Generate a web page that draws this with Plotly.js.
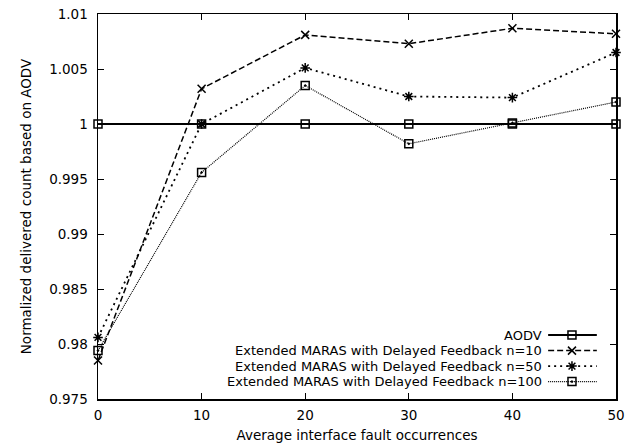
<!DOCTYPE html>
<html>
<head>
<meta charset="utf-8">
<script src="https://cdn.plot.ly/plotly-3.0.1.min.js"></script>
<style>html,body{margin:0;padding:0;background:#fff;}#chart{width:627px;height:448px;}</style>
</head>
<body>
<div id="chart"></div>
<script>
// Data
const faults = [0, 10, 20, 30, 40, 50];
const aodv = [1.0, 1.0, 1.0, 1.0, 1.0, 1.0];
const maras10 = [0.9785, 1.0032, 1.0081, 1.0073, 1.0087, 1.0082];
const maras50 = [0.9806, 1.0, 1.0051, 1.0025, 1.0024, 1.0065];
const maras100 = [0.9794, 0.9956, 1.0035, 0.9982, 1.0001, 1.0020];
const seriesNames = [
  "AODV",
  "Extended MARAS with Delayed Feedback n=10",
  "Extended MARAS with Delayed Feedback n=50",
  "Extended MARAS with Delayed Feedback n=100"
];
const xTicks = [0, 10, 20, 30, 40, 50];
const yTicks = [0.975, 0.98, 0.985, 0.99, 0.995, 1, 1.005, 1.01];

const styles = [
  {dash: "solid", width: 2, symbol: "square-open", msize: 8},
  {dash: "6px,3px", width: 1.5, symbol: "x-thin-open", msize: 8},
  {dash: "2px,4px", width: 1.8, symbol: "asterisk-open", msize: 8},
  {dash: "1px,1px", width: 1.2, symbol: "square-open-dot", msize: 8}
];
const values = [aodv, maras10, maras50, maras100];

const traces = values.map((v, i) => ({
  x: faults, y: v, type: "scatter", mode: "lines+markers",
  name: seriesNames[i], showlegend: false, cliponaxis: false,
  line: {color: "#000", width: styles[i].width, dash: styles[i].dash},
  marker: {symbol: styles[i].symbol, size: styles[i].msize, color: "#000",
           line: {color: "#000", width: 1.5}}
}));

const font = {family: "DejaVu Sans, Liberation Sans, sans-serif", size: 13.5, color: "#000"};
const keyFont = {family: "DejaVu Sans, Liberation Sans, sans-serif", size: 13, color: "#000"};

// gnuplot-style key: text right-aligned, sample to its right (overlay axes in plot fractions)
const keyTextX = 0.859, keyX0 = 0.869, keyX1 = 0.963, keyXm = 0.915;
const keyRows = [0.166, 0.1257, 0.0854, 0.0452];
const annotations = [];
seriesNames.forEach((n, i) => {
  traces.push({
    x: [keyX0, keyX1], y: [keyRows[i], keyRows[i]], xaxis: "x2", yaxis: "y2",
    type: "scatter", mode: "lines", showlegend: false, hoverinfo: "skip",
    line: {color: "#000", width: styles[i].width, dash: styles[i].dash}
  });
  traces.push({
    x: [keyXm], y: [keyRows[i]], xaxis: "x2", yaxis: "y2",
    type: "scatter", mode: "markers", showlegend: false, hoverinfo: "skip", cliponaxis: false,
    marker: {symbol: styles[i].symbol, size: styles[i].msize, color: "#000",
             line: {color: "#000", width: 1.5}}
  });
  annotations.push({
    xref: "x2", yref: "y2", x: keyTextX, y: keyRows[i], text: n, showarrow: false,
    xanchor: "right", yanchor: "middle", font: keyFont, borderpad: 0
  });
});

const layout = {
  width: 627, height: 448,
  margin: {l: 98, r: 11, t: 14, b: 49, pad: 0},
  paper_bgcolor: "#fff", plot_bgcolor: "#fff",
  font: font,
  showlegend: false,
  xaxis: {
    range: [0, 50], tickvals: xTicks, ticktext: xTicks.map(String),
    ticks: "inside", ticklen: 6, tickwidth: 1, tickcolor: "#000",
    showline: true, linecolor: "#000", linewidth: 1.5, mirror: "ticks",
    showgrid: false, zeroline: false, ticklabelstandoff: 3,
    title: {text: "Average interface fault occurrences", font: font, standoff: 9},
    automargin: false
  },
  yaxis: {
    range: [0.975, 1.01], tickvals: yTicks, ticktext: yTicks.map(String),
    ticks: "inside", ticklen: 6, tickwidth: 1, tickcolor: "#000",
    showline: true, linecolor: "#000", linewidth: 1.5, mirror: "ticks",
    showgrid: false, zeroline: false, ticklabelstandoff: 6,
    title: {text: "Normalized delivered count based on AODV", font: font, standoff: 14},
    automargin: false
  },
  xaxis2: {overlaying: "x", anchor: "y2", range: [0, 1], visible: false, fixedrange: true},
  yaxis2: {overlaying: "y", anchor: "x2", range: [0, 1], visible: false, fixedrange: true},
  annotations: annotations
};

Plotly.newPlot("chart", traces, layout, {staticPlot: true, displayModeBar: false});
</script>
</body>
</html>
